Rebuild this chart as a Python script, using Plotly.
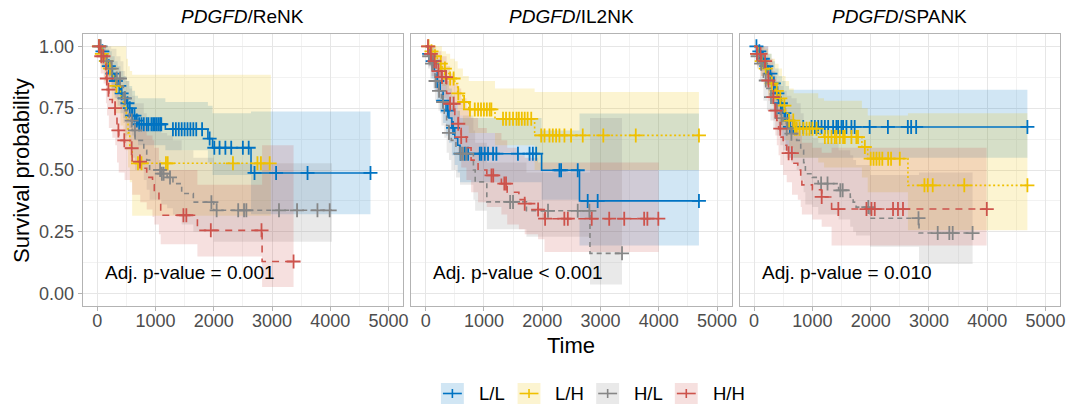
import numpy as np
import plotly.graph_objects as go

# ---------------- data ----------------
GROUPS = ["L/L", "L/H", "H/L", "H/H"]
COLORS = ["#0073C2", "#EFC000", "#868686", "#CD534C"]
DASHES = ["solid", "2px,2.5px", "5px,4px", "7px,6px"]
PANEL_TITLES = ["<i>PDGFD</i>/ReNK", "<i>PDGFD</i>/IL2NK", "<i>PDGFD</i>/SPANK"]
PVALUES = ["Adj. p-value = 0.001", "Adj. p-value < 0.001", "Adj. p-value = 0.010"]
X_TICKS = [0, 1000, 2000, 3000, 4000, 5000]
Y_TICKS = [0, 0.25, 0.5, 0.75, 1.0]

# ---- ReNK ----
RENK_LL_T = [0, 50, 100, 150, 200, 250, 300, 350, 400, 450, 500, 550, 600, 650, 700, 1170, 1900, 1980, 2640]
RENK_LL_S = [1, 0.98, 0.96, 0.94, 0.92, 0.89, 0.86, 0.84, 0.81, 0.79, 0.77, 0.75, 0.72, 0.70, 0.685, 0.665, 0.627, 0.59, 0.488]
RENK_LL_U = [1, 1, 1, 0.99, 0.98, 0.96, 0.94, 0.92, 0.90, 0.88, 0.86, 0.84, 0.82, 0.80, 0.79, 0.775, 0.76, 0.73, 0.737]
RENK_LL_L = [1, 0.94, 0.91, 0.88, 0.86, 0.82, 0.79, 0.76, 0.73, 0.71, 0.69, 0.67, 0.64, 0.62, 0.60, 0.58, 0.53, 0.48, 0.321]
RENK_LL_END = 4690
RENK_LL_C = [40, 90, 150, 200, 260, 320, 380, 420, 470, 520, 560, 600, 640, 680, 720, 760, 800, 850, 880,
             930, 960, 990, 1020, 1050, 1080, 1100, 1300, 1350, 1400, 1450, 1500, 1550, 1600, 1650, 1700, 1800,
             1930, 2010, 2100, 2200, 2300, 2500, 2600, 2700, 3070, 3610, 4690]

RENK_LH_T = [0, 60, 120, 180, 250, 320, 400, 450, 500, 530, 560, 600]
RENK_LH_S = [1, 0.97, 0.94, 0.91, 0.88, 0.84, 0.80, 0.76, 0.71, 0.65, 0.59, 0.527]
RENK_LH_U = [1, 1, 1, 1, 1, 1, 1, 1, 0.95, 0.92, 0.90, 0.885]
RENK_LH_L = [1, 0.91, 0.86, 0.82, 0.78, 0.73, 0.68, 0.63, 0.58, 0.51, 0.45, 0.315]
RENK_LH_END = 2980
RENK_LH_C = [30, 80, 150, 220, 330, 700, 760, 1180, 1210, 2330, 2750, 2810, 2960]

RENK_HL_T = [0, 80, 160, 240, 330, 400, 450, 480, 550, 600, 650, 800, 850, 900, 1100, 1200, 1300, 1450, 1650, 2000]
RENK_HL_S = [1, 0.97, 0.94, 0.91, 0.87, 0.84, 0.79, 0.74, 0.70, 0.66, 0.62, 0.58, 0.54, 0.50, 0.485, 0.47, 0.445, 0.405, 0.37, 0.337]
RENK_HL_U = [1, 1, 1, 0.99, 0.96, 0.94, 0.90, 0.86, 0.83, 0.80, 0.77, 0.73, 0.70, 0.67, 0.65, 0.64, 0.62, 0.58, 0.55, 0.527]
RENK_HL_L = [1, 0.92, 0.87, 0.83, 0.79, 0.75, 0.69, 0.64, 0.59, 0.55, 0.50, 0.46, 0.42, 0.38, 0.36, 0.345, 0.32, 0.28, 0.25, 0.21]
RENK_HL_END = 4030
RENK_HL_C = [60, 165, 250, 336, 392, 478, 592, 648, 1080, 1110, 1140, 1250, 1960, 2050, 2420, 2520, 2560, 3120, 3430, 3780, 3990]

RENK_HH_T = [0, 60, 110, 150, 170, 200, 260, 310, 340, 370, 470, 600, 740, 850, 950, 980, 1060, 1090, 1720, 2830]
RENK_HH_S = [1, 0.96, 0.93, 0.87, 0.825, 0.785, 0.75, 0.72, 0.66, 0.62, 0.588, 0.534, 0.507, 0.47, 0.44, 0.41, 0.36, 0.317, 0.256, 0.130]
RENK_HH_U = [1, 1, 1, 0.97, 0.94, 0.91, 0.88, 0.86, 0.81, 0.78, 0.75, 0.70, 0.68, 0.64, 0.62, 0.59, 0.54, 0.50, 0.44, 0.60]
RENK_HH_L = [1, 0.89, 0.85, 0.77, 0.72, 0.67, 0.63, 0.60, 0.53, 0.49, 0.46, 0.40, 0.37, 0.34, 0.31, 0.28, 0.24, 0.20, 0.15, 0.027]
RENK_HH_END = 3370
RENK_HH_C = [30, 70, 108, 165, 193, 307, 364, 466, 592, 734, 1480, 1530, 1950, 2820, 3370]

# ---- IL2NK ----
IL2NK_LL_T = [0, 50, 100, 150, 200, 250, 300, 350, 400, 450, 500, 550, 590, 1990, 2640]
IL2NK_LL_S = [1, 0.97, 0.94, 0.90, 0.86, 0.82, 0.78, 0.74, 0.71, 0.67, 0.63, 0.60, 0.566, 0.499, 0.375]
IL2NK_LL_U = [1, 1, 1, 0.98, 0.95, 0.92, 0.89, 0.86, 0.83, 0.80, 0.77, 0.74, 0.71, 0.66, 0.728]
IL2NK_LL_L = [1, 0.92, 0.87, 0.82, 0.78, 0.73, 0.69, 0.64, 0.61, 0.56, 0.52, 0.49, 0.45, 0.38, 0.195]
IL2NK_LL_END = 4690
IL2NK_LL_C = [60, 120, 200, 300, 380, 470, 600, 672, 729, 929, 957, 1014, 1071, 1157, 1214, 1584, 1783, 1840, 1897,
              2296, 2325, 2610, 2781, 2952, 4690]

IL2NK_LH_T = [0, 60, 120, 200, 280, 350, 420, 500, 550, 640, 740, 1190, 1870]
IL2NK_LH_S = [1, 0.98, 0.96, 0.93, 0.91, 0.89, 0.87, 0.85, 0.81, 0.775, 0.745, 0.707, 0.64]
IL2NK_LH_U = [1, 1, 1, 1, 0.98, 0.97, 0.95, 0.94, 0.91, 0.88, 0.86, 0.83, 0.815]
IL2NK_LH_L = [1, 0.94, 0.91, 0.87, 0.84, 0.82, 0.79, 0.77, 0.72, 0.68, 0.65, 0.60, 0.50]
IL2NK_LH_END = 4690
IL2NK_LH_C = [50, 100, 160, 260, 330, 420, 480, 560, 660, 760, 843, 900, 950, 1000, 1050, 1100, 1128, 1328, 1380,
              1440, 1500, 1560, 1600, 1650, 1700, 1750, 1812, 1983, 2040, 2125, 2182, 2239, 2296, 2382, 2496,
              2696, 3049, 3606, 4690]

IL2NK_HL_T = [0, 40, 80, 130, 160, 220, 270, 320, 360, 400, 440, 520, 590, 820, 850, 1050, 1730, 2820]
IL2NK_HL_S = [1, 0.96, 0.93, 0.90, 0.86, 0.82, 0.775, 0.73, 0.68, 0.65, 0.62, 0.59, 0.566, 0.50, 0.452, 0.371, 0.335, 0.163]
IL2NK_HL_U = [1, 1, 0.99, 0.97, 0.94, 0.91, 0.88, 0.85, 0.81, 0.79, 0.76, 0.74, 0.72, 0.66, 0.61, 0.53, 0.49, 0.71]
IL2NK_HL_L = [1, 0.91, 0.87, 0.83, 0.78, 0.74, 0.68, 0.63, 0.57, 0.54, 0.50, 0.47, 0.44, 0.38, 0.335, 0.26, 0.23, 0.037]
IL2NK_HL_END = 3370
IL2NK_HL_C = [60, 110, 170, 230, 300, 400, 600, 640, 700, 1450, 1500, 2100, 2610, 2810, 3370]

IL2NK_HH_T = [0, 50, 100, 180, 270, 360, 420, 500, 560, 610, 700, 780, 900, 1050, 1300, 1400, 1600, 1700, 1930, 2040]
IL2NK_HH_S = [1, 0.97, 0.94, 0.90, 0.876, 0.81, 0.768, 0.72, 0.687, 0.633, 0.59, 0.54, 0.50, 0.478, 0.445, 0.41, 0.38, 0.364, 0.34, 0.303]
IL2NK_HH_U = [1, 1, 1, 0.98, 0.96, 0.92, 0.89, 0.85, 0.83, 0.79, 0.75, 0.71, 0.67, 0.65, 0.62, 0.59, 0.56, 0.55, 0.53, 0.53]
IL2NK_HH_L = [1, 0.92, 0.88, 0.82, 0.79, 0.71, 0.66, 0.60, 0.57, 0.51, 0.46, 0.41, 0.37, 0.35, 0.32, 0.28, 0.26, 0.24, 0.22, 0.168]
IL2NK_HH_END = 4000
IL2NK_HH_C = [40, 90, 150, 220, 280, 350, 420, 480, 560, 610, 1130, 1160, 1350, 1380, 1700, 1930, 2050, 2380, 2440,
              2850, 3150, 3408, 3750, 3805, 3993]

# ---- SPANK ----
SPANK_LL_T = [0, 60, 120, 180, 240, 300, 360, 420, 480, 540, 600]
SPANK_LL_S = [1, 0.98, 0.95, 0.92, 0.89, 0.85, 0.81, 0.77, 0.73, 0.70, 0.674]
SPANK_LL_U = [1, 1, 1, 1, 0.97, 0.94, 0.91, 0.88, 0.86, 0.84, 0.825]
SPANK_LL_L = [1, 0.94, 0.90, 0.86, 0.82, 0.77, 0.72, 0.67, 0.62, 0.58, 0.55]
SPANK_LL_END = 4690
SPANK_LL_C = [40, 90, 150, 210, 280, 340, 400, 460, 520, 580, 615, 672, 843, 986, 1043, 1100, 1157, 1214, 1271,
              1356, 1413, 1442, 1499, 1527, 1584, 1670, 1726, 1983, 2296, 2638, 2695, 2781, 4690]

SPANK_LH_T = [0, 60, 120, 180, 240, 300, 360, 420, 480, 540, 600, 680, 1100, 1200, 1850, 1950, 2640]
SPANK_LH_S = [1, 0.97, 0.94, 0.91, 0.88, 0.85, 0.82, 0.79, 0.76, 0.73, 0.70, 0.667, 0.645, 0.633, 0.593, 0.546, 0.438]
SPANK_LH_U = [1, 1, 1, 0.99, 0.97, 0.95, 0.93, 0.91, 0.88, 0.86, 0.83, 0.81, 0.79, 0.78, 0.75, 0.72, 0.73]
SPANK_LH_L = [1, 0.92, 0.88, 0.84, 0.80, 0.76, 0.72, 0.69, 0.66, 0.62, 0.59, 0.55, 0.53, 0.51, 0.47, 0.41, 0.256]
SPANK_LH_END = 4690
SPANK_LH_C = [60, 130, 200, 300, 390, 450, 520, 600, 672, 700, 730, 780, 843, 900, 950, 1000, 1071, 1214, 1271,
              1328, 1385, 1413, 1470, 1527, 1556, 1670, 1755, 1783, 1900, 2000, 2050, 2100, 2150, 2200, 2300,
              2350, 2500, 2923, 2980, 3065, 3607, 4690]

SPANK_HL_T = [0, 50, 100, 160, 220, 280, 330, 390, 450, 500, 560, 640, 730, 800, 850, 880, 1000, 1100, 1450, 1650, 1700, 1750, 1990, 2830]
SPANK_HL_S = [1, 0.96, 0.93, 0.862, 0.83, 0.795, 0.77, 0.741, 0.71, 0.69, 0.667, 0.647, 0.62, 0.58, 0.53, 0.485, 0.47, 0.445, 0.418, 0.39, 0.37, 0.35, 0.305, 0.245]
SPANK_HL_U = [1, 1, 1, 0.95, 0.93, 0.90, 0.88, 0.86, 0.84, 0.82, 0.80, 0.79, 0.77, 0.73, 0.69, 0.65, 0.63, 0.61, 0.58, 0.56, 0.54, 0.52, 0.48, 0.49]
SPANK_HL_L = [1, 0.91, 0.86, 0.78, 0.74, 0.70, 0.67, 0.64, 0.60, 0.58, 0.55, 0.53, 0.50, 0.46, 0.41, 0.36, 0.35, 0.32, 0.30, 0.27, 0.25, 0.235, 0.19, 0.12]
SPANK_HL_END = 3750
SPANK_HL_C = [60, 120, 200, 290, 390, 470, 560, 640, 1150, 1260, 1480, 1520, 1960, 2821, 3151, 3350, 3408, 3749]

SPANK_HH_T = [0, 50, 120, 190, 245, 330, 364, 390, 420, 450, 500, 560, 650, 750, 800, 820, 1000, 1160, 1330]
SPANK_HH_S = [1, 0.97, 0.94, 0.916, 0.862, 0.795, 0.74, 0.70, 0.667, 0.633, 0.60, 0.568, 0.527, 0.50, 0.47, 0.44, 0.42, 0.391, 0.342]
SPANK_HH_U = [1, 1, 1, 1, 0.95, 0.90, 0.86, 0.83, 0.80, 0.77, 0.75, 0.72, 0.69, 0.66, 0.64, 0.61, 0.59, 0.57, 0.59]
SPANK_HH_L = [1, 0.92, 0.88, 0.84, 0.78, 0.70, 0.64, 0.60, 0.56, 0.52, 0.48, 0.45, 0.40, 0.38, 0.35, 0.32, 0.30, 0.27, 0.195]
SPANK_HH_END = 3990
SPANK_HH_C = [50, 110, 188, 245, 330, 364, 449, 592, 648, 1160, 1445, 1928, 2014, 2070, 2384, 2469, 2555, 3993]

PANELS = [
    [(RENK_LL_T, RENK_LL_S, RENK_LL_U, RENK_LL_L, RENK_LL_END, RENK_LL_C),
     (RENK_LH_T, RENK_LH_S, RENK_LH_U, RENK_LH_L, RENK_LH_END, RENK_LH_C),
     (RENK_HL_T, RENK_HL_S, RENK_HL_U, RENK_HL_L, RENK_HL_END, RENK_HL_C),
     (RENK_HH_T, RENK_HH_S, RENK_HH_U, RENK_HH_L, RENK_HH_END, RENK_HH_C)],
    [(IL2NK_LL_T, IL2NK_LL_S, IL2NK_LL_U, IL2NK_LL_L, IL2NK_LL_END, IL2NK_LL_C),
     (IL2NK_LH_T, IL2NK_LH_S, IL2NK_LH_U, IL2NK_LH_L, IL2NK_LH_END, IL2NK_LH_C),
     (IL2NK_HL_T, IL2NK_HL_S, IL2NK_HL_U, IL2NK_HL_L, IL2NK_HL_END, IL2NK_HL_C),
     (IL2NK_HH_T, IL2NK_HH_S, IL2NK_HH_U, IL2NK_HH_L, IL2NK_HH_END, IL2NK_HH_C)],
    [(SPANK_LL_T, SPANK_LL_S, SPANK_LL_U, SPANK_LL_L, SPANK_LL_END, SPANK_LL_C),
     (SPANK_LH_T, SPANK_LH_S, SPANK_LH_U, SPANK_LH_L, SPANK_LH_END, SPANK_LH_C),
     (SPANK_HL_T, SPANK_HL_S, SPANK_HL_U, SPANK_HL_L, SPANK_HL_END, SPANK_HL_C),
     (SPANK_HH_T, SPANK_HH_S, SPANK_HH_U, SPANK_HH_L, SPANK_HH_END, SPANK_HH_C)],
]

# ---------------- layout geometry ----------------
W, H = 1073, 405
FONT = "Liberation Sans, Arial, sans-serif"
PANEL_PX = [(83, 405), (413, 735), (743, 1065)]
Y_TOP, Y_BOT = 34, 306


def px_x(v):
    return v / W


def px_y(v):
    return 1 - v / H


def rgba(hex_color, a):
    h = hex_color.lstrip("#")
    r, g, b = int(h[0:2], 16), int(h[2:4], 16), int(h[4:6], 16)
    return f"rgba({r},{g},{b},{a})"


fig = go.Figure()

# bands
for p, groups in enumerate(PANELS):
    xa = "x" if p == 0 else f"x{p+1}"
    ya = "y" if p == 0 else f"y{p+1}"
    for g, (T, S, U, L, END, C) in enumerate(groups):
        tx = list(T) + [END]
        lo = list(L) + [L[-1]]
        up = list(U) + [U[-1]]
        fig.add_trace(go.Scatter(x=tx, y=lo, mode="lines", line=dict(width=0, shape="hv"),
                                 xaxis=xa, yaxis=ya, showlegend=False, hoverinfo="skip"))
        fig.add_trace(go.Scatter(x=tx, y=up, mode="lines", line=dict(width=0, shape="hv"),
                                 fill="tonexty", fillcolor=rgba(COLORS[g], 0.18),
                                 xaxis=xa, yaxis=ya, showlegend=False, hoverinfo="skip"))

# curves and censor marks
for p, groups in enumerate(PANELS):
    xa = "x" if p == 0 else f"x{p+1}"
    ya = "y" if p == 0 else f"y{p+1}"
    for g, (T, S, U, L, END, C) in enumerate(groups):
        tx = list(T) + [END]
        sy = list(S) + [S[-1]]
        fig.add_trace(go.Scatter(x=tx, y=sy, mode="lines",
                                 line=dict(color=COLORS[g], width=1.6, shape="hv", dash=DASHES[g]),
                                 xaxis=xa, yaxis=ya, showlegend=False, hoverinfo="skip"))
        Ta = np.array(T, dtype=float)
        Sa = np.array(S, dtype=float)
        ca = np.array(C, dtype=float)
        idx = np.searchsorted(Ta, ca, side="right") - 1
        fig.add_trace(go.Scatter(x=ca, y=Sa[idx], mode="markers",
                                 marker=dict(symbol="cross-thin", size=10, color=COLORS[g],
                                             line=dict(color=COLORS[g], width=1.8)),
                                 xaxis=xa, yaxis=ya, showlegend=False, hoverinfo="skip"))

axis_common = dict(showline=True, mirror=True, linecolor="#B3B3B3", linewidth=1,
                   zeroline=False, showgrid=True, gridcolor="#E6E6E6", gridwidth=1)

layout = dict(width=W, height=H, margin=dict(l=0, r=0, t=0, b=0),
              plot_bgcolor="white", paper_bgcolor="white",
              font=dict(family=FONT, color="black"), showlegend=False)

TICK_FONT = dict(size=18, color="#4D4D4D", family=FONT)
for p, (x0, x1) in enumerate(PANEL_PX):
    sx = "" if p == 0 else str(p + 1)
    layout["xaxis" + sx] = dict(
        domain=[px_x(x0), px_x(x1)], range=[-250, 5250], anchor="y" + sx,
        tickvals=X_TICKS, ticktext=[str(v) for v in X_TICKS],
        ticks="outside", ticklen=4, tickcolor="#B3B3B3",
        tickfont=TICK_FONT, ticklabelstandoff=-6,
        minor=dict(dtick=500, tick0=0, showgrid=True, gridcolor="#F2F2F2", gridwidth=1),
        **axis_common)
    layout["yaxis" + sx] = dict(
        domain=[px_y(Y_BOT), px_y(Y_TOP)], range=[-0.05, 1.05], anchor="x" + sx,
        tickvals=Y_TICKS, ticktext=[f"{v:.2f}" for v in Y_TICKS],
        ticks="outside" if p == 0 else "", ticklen=4, tickcolor="#B3B3B3",
        showticklabels=(p == 0),
        tickfont=TICK_FONT,
        minor=dict(dtick=0.125, tick0=0, showgrid=True, gridcolor="#F2F2F2", gridwidth=1),
        **axis_common)

annotations = []
for p, (x0, x1) in enumerate(PANEL_PX):
    annotations.append(dict(text=PANEL_TITLES[p], xref="paper", yref="paper",
                            x=px_x((x0 + x1) / 2), y=px_y(17), xanchor="center", yanchor="middle",
                            showarrow=False, font=dict(size=19, color="black", family=FONT)))
    sx = "" if p == 0 else str(p + 1)
    annotations.append(dict(text=PVALUES[p], xref="x" + sx, yref="y" + sx,
                            x=100, y=0.085, xanchor="left", yanchor="middle",
                            showarrow=False, font=dict(size=19, color="black", family=FONT)))

annotations.append(dict(text="Time", xref="paper", yref="paper",
                        x=px_x((PANEL_PX[0][0] + PANEL_PX[2][1]) / 2), y=px_y(345),
                        xanchor="center", yanchor="middle", showarrow=False,
                        font=dict(size=22, color="black", family=FONT)))
annotations.append(dict(text="Survival probability", xref="paper", yref="paper",
                        x=px_x(21), y=px_y((Y_TOP + Y_BOT) / 2), textangle=-90,
                        xanchor="center", yanchor="middle", showarrow=False,
                        font=dict(size=22, color="black", family=FONT)))

# manual legend (bottom)
shapes = []
LEG_KEYS = [443, 520, 599, 678]
LEG_Y0, LEG_Y1 = 383, 404
for g, kx in enumerate(LEG_KEYS):
    cy = (LEG_Y0 + LEG_Y1) / 2
    shapes.append(dict(type="rect", xref="paper", yref="paper",
                       x0=px_x(kx), x1=px_x(kx + 23), y0=px_y(LEG_Y1), y1=px_y(LEG_Y0),
                       fillcolor=rgba(COLORS[g], 0.18), line=dict(width=0), layer="below"))
    shapes.append(dict(type="line", xref="paper", yref="paper",
                       x0=px_x(kx + 2), x1=px_x(kx + 21), y0=px_y(cy), y1=px_y(cy),
                       line=dict(color=COLORS[g], width=1.6)))
    shapes.append(dict(type="line", xref="paper", yref="paper",
                       x0=px_x(kx + 11.5), x1=px_x(kx + 11.5), y0=px_y(cy - 4.5), y1=px_y(cy + 4.5),
                       line=dict(color=COLORS[g], width=1.6)))
    annotations.append(dict(text=GROUPS[g], xref="paper", yref="paper",
                            x=px_x(kx + 36), y=px_y(cy), xanchor="left", yanchor="middle",
                            showarrow=False, font=dict(size=18.5, color="black", family=FONT)))

layout["annotations"] = annotations
layout["shapes"] = shapes
fig.update_layout(**layout)

fig.write_html("out.html")
